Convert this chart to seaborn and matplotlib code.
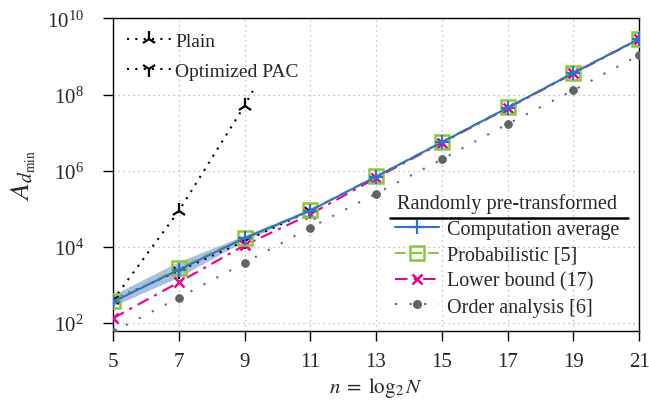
import matplotlib
matplotlib.use('Agg')
import matplotlib.pyplot as plt
import seaborn as sns
import pandas as pd
from matplotlib.lines import Line2D

# values
n_vals = [5, 7, 9, 11, 13, 15, 17, 19, 21]
comp_avg = [360, 2500, 1.7e4, 9.0e4, 7.0e5, 5.6e6, 4.5e7, 3.7e8, 2.9e9]
probabilistic = [370, 2800, 1.75e4, 9.2e4, 7.1e5, 5.7e6, 4.6e7, 3.8e8, 2.95e9]
lower_bound = [133, 1170, 1.1e4, 7.2e4, 6.5e5, 5.4e6, 4.4e7, 3.6e8, 2.85e9]
order_analysis = [59, 460, 3800, 3.2e4, 2.5e5, 2.0e6, 1.7e7, 1.3e8, 1.1e9]

band_n = [5, 7, 9, 11]
band_lo = [280, 1600, 1.45e4, 8.8e4]
band_hi = [550, 4100, 2.0e4, 9.2e4]

plain_n = [5, 7, 9, 9.25]
plain_vals = [400, 8.7e4, 5.1e7, 1.25e8]
pac_n = [5, 7, 9, 11]
pac_vals = [410, 2350, 1.4e4, 9.0e4]

xticks = [5, 7, 9, 11, 13, 15, 17, 19, 21]
yticks = [1e2, 1e4, 1e6, 1e8, 1e10]

blue = '#2f73c3'
green = '#8cc63e'
pink = '#ec008c'
grey = '#5c6666'

sns.set_theme(style='ticks')
plt.rcParams['font.family'] = ['Liberation Serif', 'DejaVu Serif']
plt.rcParams['mathtext.fontset'] = 'stix'

fig = plt.figure(figsize=(6.49, 4.14), dpi=100)
ax = fig.add_axes([0.174, 0.198, 0.811, 0.755])

df = pd.DataFrame({'n': n_vals, 'comp': comp_avg, 'prob': probabilistic,
                   'lb': lower_bound, 'order': order_analysis})

ax.fill_between(band_n, band_lo, band_hi, color='#8fa8dc', alpha=0.75, lw=0, zorder=2)

dots = (0, (1, 3))
tri_kw = dict(color='black', linestyle=dots, lw=1.5, markersize=11, mew=1.6, mec='black')
ord_kw = dict(color=grey, linestyle=(0, (1, 6)), lw=1.5, marker='o', markersize=5.5,
              mec=grey, mfc=grey)
lb_kw = dict(color=pink, linestyle=(0, (6, 3, 1.5, 3)), lw=1.5, marker='x',
             markersize=7.5, mew=1.8, mec=pink)
prob_kw = dict(color=green, linestyle=(0, (5, 3)), lw=1.5, marker='s', markersize=9.5,
               mfc='none', mec=green, mew=1.8)
comp_kw = dict(color=blue, linestyle='-', lw=1.5, marker='+', markersize=10, mew=1.6,
               mec=blue)

sns.lineplot(data=pd.DataFrame({'n': plain_n, 'v': plain_vals}), x='n', y='v', ax=ax,
             marker='2', markevery=[0, 1, 2], zorder=3, **tri_kw)
sns.lineplot(data=pd.DataFrame({'n': pac_n, 'v': pac_vals}), x='n', y='v', ax=ax,
             marker='1', zorder=3, **tri_kw)
sns.lineplot(data=df, x='n', y='order', ax=ax, zorder=3, **ord_kw)
sns.lineplot(data=df, x='n', y='lb', ax=ax, zorder=4, **lb_kw)
sns.lineplot(data=df, x='n', y='prob', ax=ax, zorder=5, **prob_kw)
sns.lineplot(data=df, x='n', y='comp', ax=ax, zorder=6, **comp_kw)

ax.set_yscale('log')
ax.set_xlim(5, 21)
ax.set_ylim(10 ** 1.79, 1e10)
ax.set_xticks(xticks)
ax.set_xticklabels([str(t) for t in xticks])
ax.set_yticks(yticks)
ax.minorticks_off()
ax.tick_params(axis='both', labelsize=15, length=7, width=1, direction='out', color='black')
ax.tick_params(axis='x', pad=8)
ax.tick_params(axis='y', pad=14)
ax.grid(True, linestyle=(0, (1, 3)), color='#b0b0b0', lw=0.9)
for s in ax.spines.values():
    s.set_color('black')
    s.set_linewidth(1)
ax.set_xlabel(r'$n \;=\; \log_2 N$', fontsize=15, labelpad=3)
ax.set_ylabel(r'$A_{d_{\min}}$', fontsize=20, labelpad=6)

h_plain = Line2D([], [], marker='2', **tri_kw)
h_pac = Line2D([], [], marker='1', **tri_kw)
leg1 = ax.legend([h_plain, h_pac], ['Plain', 'Optimized PAC'], loc='upper left',
                 frameon=False, fontsize=14, handlelength=2.3, handletextpad=0.2,
                 labelspacing=0.65, borderaxespad=0.3)
ax.add_artist(leg1)

h_comp = Line2D([], [], **comp_kw)
h_prob = Line2D([], [], **prob_kw)
h_lb = Line2D([], [], **lb_kw)
h_ord = Line2D([], [], **ord_kw)
leg2 = ax.legend([h_comp, h_prob, h_lb, h_ord],
                 ['Computation average', 'Probabilistic [5]', 'Lower bound (17)',
                  'Order analysis [6]'],
                 title='Randomly pre-transformed', title_fontsize=14.6,
                 loc='upper left', bbox_to_anchor=(0.535, 0.44), frameon=False,
                 fontsize=14.5, handlelength=2.2, handletextpad=0.4, labelspacing=0.33,
                 borderaxespad=0, borderpad=0)

fig.canvas.draw()
tb = leg2.get_title().get_window_extent()
inv = fig.transFigure.inverted()
x0, y0 = inv.transform((390, tb.y0 - 5))
x1, _ = inv.transform((628, 0))
fig.add_artist(Line2D([x0, x1], [y0, y0], color='black', lw=1.8, transform=fig.transFigure))

fig.savefig('out.png', dpi=100)
